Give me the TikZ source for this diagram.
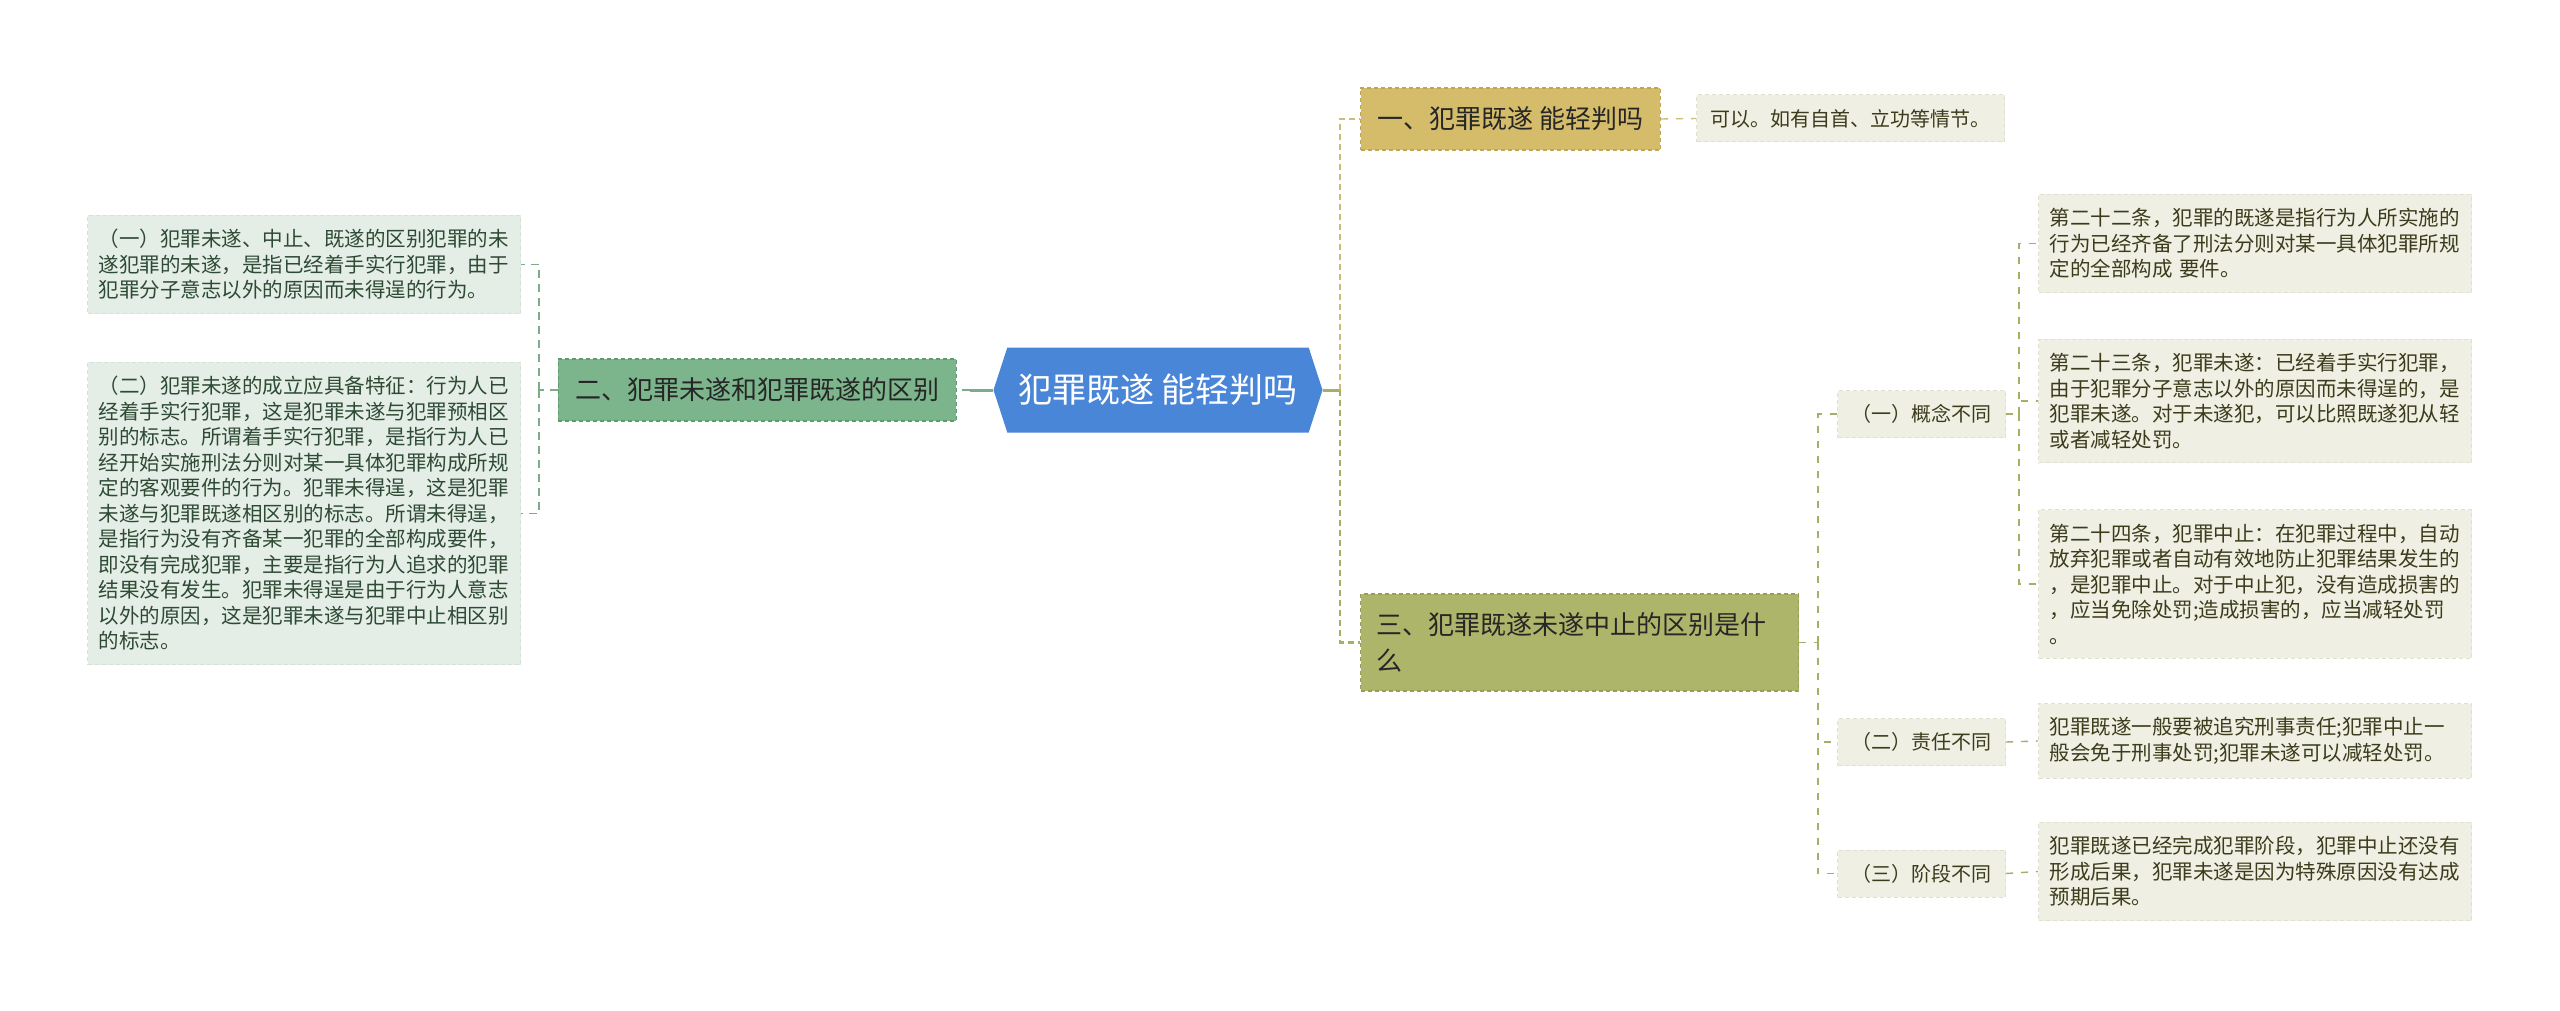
\documentclass[tikz,border=0pt]{standalone}
\usepackage{fontspec}
\setmainfont{Noto Sans CJK SC}
\usetikzlibrary{shapes.symbols}

\definecolor{TopicBlue}{HTML}{4A86D8}
\definecolor{BranchGreen}{HTML}{7CB48C}
\definecolor{BranchGreenLine}{HTML}{5F9A70}
\definecolor{BranchGold}{HTML}{D5BC6B}
\definecolor{BranchGoldLine}{HTML}{BFA655}
\definecolor{BranchOlive}{HTML}{ADB56A}
\definecolor{BranchOliveLine}{HTML}{969F55}
\definecolor{LeafGreen}{HTML}{E4EEE6}
\definecolor{LeafGreenLine}{HTML}{D2E2D6}
\definecolor{LeafGreenText}{HTML}{2E4A34}
\definecolor{LeafPale}{HTML}{EFEFE3}
\definecolor{LeafPaleLine}{HTML}{E0E0CC}
\definecolor{LeafPaleText}{HTML}{3C3C1C}
\definecolor{LinkGreen}{HTML}{7EAB88}
\definecolor{LinkGold}{HTML}{C9BD7C}
\definecolor{LinkOlive}{HTML}{A6AF66}

\begin{document}
\begin{tikzpicture}[
    x=0.5pt, y=-0.5pt,
    mainidea/.style={signal, signal to=east and west, signal pointer angle=144,
        fill=TopicBlue, text=white, minimum width=164.5pt, minimum height=42.5pt,
        inner sep=0pt, font=\fontsize{17pt}{20pt}\selectfont},
    branchbox/.style={rectangle, draw, dash pattern=on 2pt off 1.5pt, line width=0.6pt,
        inner xsep=8.5pt, inner ysep=0pt, minimum height=31pt, align=left,
        text=black!85, font=\fontsize{13pt}{18pt}\selectfont},
    greenbranch/.style={branchbox, fill=BranchGreen, draw=BranchGreenLine},
    goldbranch/.style={branchbox, fill=BranchGold, draw=BranchGoldLine},
    olivebranch/.style={branchbox, fill=BranchOlive, draw=BranchOliveLine,
        inner xsep=8pt, text width=203pt, minimum height=48.5pt},
    leafbox/.style={rectangle, draw, dash pattern=on 2pt off 1.5pt, line width=0.5pt,
        inner xsep=5.5pt, inner ysep=7pt, text width=205.5pt, align=left,
        font=\fontsize{10.25pt}{12.75pt}\selectfont},
    greenleaf/.style={leafbox, fill=LeafGreen, draw=LeafGreenLine, text=LeafGreenText},
    paleleaf/.style={leafbox, fill=LeafPale, draw=LeafPaleLine, text=LeafPaleText},
    paletag/.style={rectangle, draw=LeafPaleLine, dash pattern=on 2pt off 1.5pt,
        line width=0.5pt, fill=LeafPale, text=LeafPaleText, inner xsep=7pt,
        inner ysep=0pt, minimum height=23.5pt, font=\fontsize{10pt}{12pt}\selectfont},
    greenstub/.style={draw=LinkGreen, line width=1.5pt},
    olivestub/.style={draw=LinkOlive, line width=1.5pt},
    greenlink/.style={draw=LinkGreen, line width=0.7pt, dash pattern=on 4pt off 3pt},
    goldlink/.style={draw=LinkGold, line width=0.7pt, dash pattern=on 3.5pt off 4pt},
    olivelink/.style={draw=LinkOlive, line width=0.7pt, dash pattern=on 3.5pt off 4pt},
    goldtrunk/.style={draw=LinkGold, line width=1.4pt, dash pattern=on 3pt off 2pt},
    olivetrunk/.style={draw=LinkOlive, line width=1.4pt, dash pattern=on 3pt off 2pt}
]
\useasboundingbox[fill=white] (0,0) rectangle (2560,1011);

\node (Topic) [mainidea] at (1158,390) {犯罪既遂 能轻判吗};

% left side
\node (Branch02) [greenbranch, anchor=east] at (957,390) {二、犯罪未遂和犯罪既遂的区别};
\node (Leaf01) [greenleaf, anchor=east] at (521,264.5)
  {（一）犯罪未遂、中止、既遂的区别犯罪的未\\遂犯罪的未遂，是指已经着手实行犯罪，由于\\犯罪分子意志以外的原因而未得逞的行为。};
\node (Leaf02) [greenleaf, anchor=east] at (521,513.5)
  {（二）犯罪未遂的成立应具备特征：行为人已\\经着手实行犯罪，这是犯罪未遂与犯罪预相区\\别的标志。所谓着手实行犯罪，是指行为人已\\经开始实施刑法分则对某一具体犯罪构成所规\\定的客观要件的行为。犯罪未得逞，这是犯罪\\未遂与犯罪既遂相区别的标志。所谓未得逞，\\是指行为没有齐备某一犯罪的全部构成要件，\\即没有完成犯罪，主要是指行为人追求的犯罪\\结果没有发生。犯罪未得逞是由于行为人意志\\以外的原因，这是犯罪未遂与犯罪中止相区别\\的标志。};

% right side
\node (Branch01) [goldbranch, anchor=west] at (1360,119) {一、犯罪既遂 能轻判吗};
\node (Note01) [paletag, anchor=west] at (1696,118.5) {可以。如有自首、立功等情节。};
\node (Branch03) [olivebranch, anchor=west] at (1360,642.5) {三、犯罪既遂未遂中止的区别是什\\么};

\node (Tag01) [paletag, anchor=west] at (1837,414) {（一）概念不同};
\node (Tag02) [paletag, anchor=west] at (1837,742) {（二）责任不同};
\node (Tag03) [paletag, anchor=west] at (1837,873.5) {（三）阶段不同};

\node (Leaf03) [paleleaf, anchor=west] at (2038,243.5)
  {第二十二条，犯罪的既遂是指行为人所实施的\\行为已经齐备了刑法分则对某一具体犯罪所规\\定的全部构成 要件。};
\node (Leaf04) [paleleaf, anchor=west] at (2038,401)
  {第二十三条，犯罪未遂：已经着手实行犯罪，\\由于犯罪分子意志以外的原因而未得逞的，是\\犯罪未遂。对于未遂犯，可以比照既遂犯从轻\\或者减轻处罚。};
\node (Leaf05) [paleleaf, anchor=west] at (2038,584)
  {第二十四条，犯罪中止：在犯罪过程中，自动\\放弃犯罪或者自动有效地防止犯罪结果发生的\\，是犯罪中止。对于中止犯，没有造成损害的\\，应当免除处罚;造成损害的，应当减轻处罚\\。};
\node (Leaf06) [paleleaf, anchor=west] at (2038,741)
  {犯罪既遂一般要被追究刑事责任;犯罪中止一\\般会免于刑事处罚;犯罪未遂可以减轻处罚。};
\node (Leaf07) [paleleaf, anchor=west] at (2038,871.5)
  {犯罪既遂已经完成犯罪阶段，犯罪中止还没有\\形成后果，犯罪未遂是因为特殊原因没有达成\\预期后果。};

% hubs
\coordinate (LeftStub) at (970,390);
\coordinate (LeftHub) at (539,390);
\coordinate (RightHub) at (1340,390);
\coordinate (OliveHub) at (1818,642.5);
\coordinate (TagHub) at (2019,414);

\draw[greenstub] (Topic.west) -- (LeftStub);
\draw[greenlink] (LeftStub) -- (Branch02.east);
\draw[greenlink] (Branch02.west) -- (LeftHub);
\draw[greenlink] (LeftHub) |- (Leaf01.east);
\draw[greenlink] (LeftHub) |- (Leaf02.east);

\draw[olivestub] (Topic.east) -- (RightHub);
\draw[goldtrunk] (RightHub) |- (Branch01.west);
\draw[olivetrunk] (RightHub) |- (Branch03.west);
\draw[goldlink] (Branch01.east) -- (Note01.west);

\draw[olivelink] (Branch03.east) -- (OliveHub);
\draw[olivelink] (OliveHub) |- (Tag01.west);
\draw[olivelink] (OliveHub) |- (Tag02.west);
\draw[olivelink] (OliveHub) |- (Tag03.west);

\draw[olivelink] (Tag01.east) -- (TagHub);
\draw[olivelink] (TagHub) |- (Leaf03.west);
\draw[olivelink] (TagHub) |- (Leaf04.west);
\draw[olivelink] (TagHub) |- (Leaf05.west);
\draw[olivelink] (Tag02.east) -- (Leaf06.west);
\draw[olivelink] (Tag03.east) -- (Leaf07.west);

\end{tikzpicture}
\end{document}
